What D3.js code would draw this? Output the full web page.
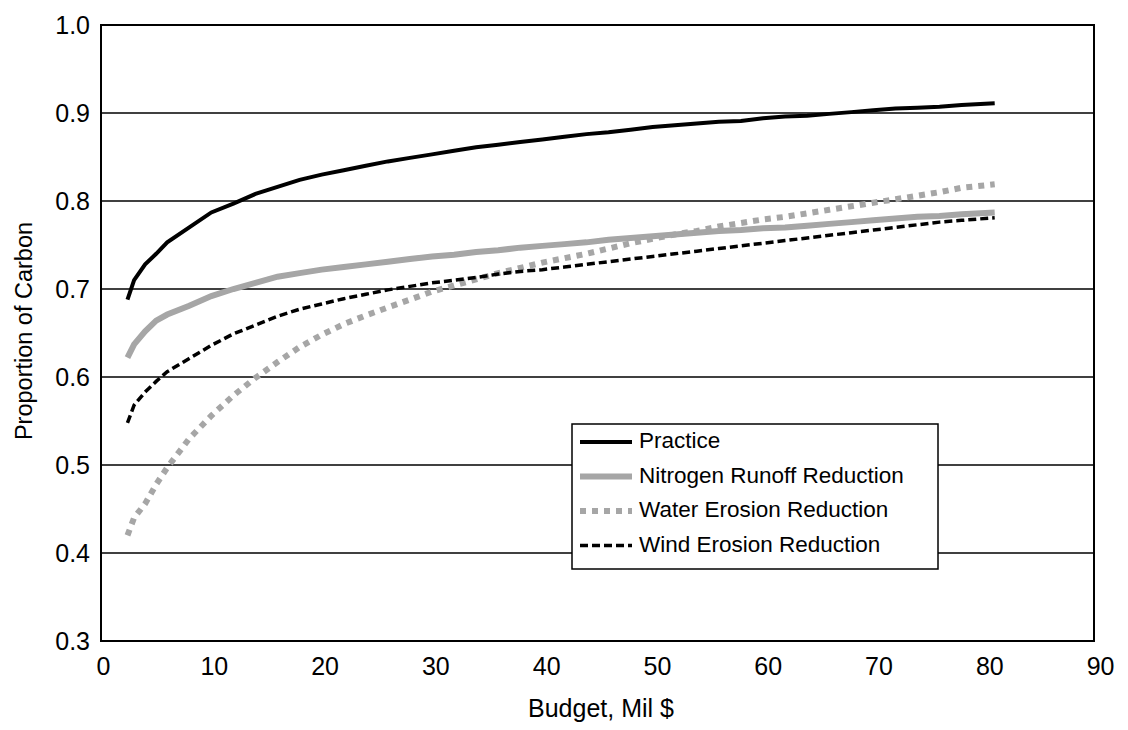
<!DOCTYPE html>
<html>
<head>
<meta charset="utf-8">
<script src="https://cdn.jsdelivr.net/npm/d3@7"></script>
<style>
  body { margin: 0; background: #fff; }
  text { font-family: "Liberation Sans", Arial, sans-serif; fill: #000; }
</style>
</head>
<body>
<div id="chart"></div>
<script>
const budget = [2.4, 3, 4, 5, 6, 8, 10, 12, 14, 16, 18, 20, 22, 24, 26, 28, 30, 32, 34, 36, 38, 40,
    42, 44, 46, 48, 50, 52, 54, 56, 58, 60, 62, 64, 66, 68, 70, 72, 74, 76, 78, 81];

const practice = [0.688, 0.710, 0.728, 0.740, 0.753, 0.770, 0.787, 0.797, 0.808, 0.816, 0.824, 0.830,
    0.835, 0.840, 0.845, 0.849, 0.853, 0.857, 0.861, 0.864, 0.867, 0.870, 0.873, 0.876, 0.878, 0.881,
    0.884, 0.886, 0.888, 0.890, 0.891, 0.894, 0.896, 0.897, 0.899, 0.901, 0.903, 0.905, 0.906, 0.907,
    0.909, 0.911];

const nitrogen = [0.622, 0.637, 0.652, 0.664, 0.671, 0.681, 0.692, 0.700, 0.707, 0.714, 0.718, 0.722,
    0.725, 0.728, 0.731, 0.734, 0.737, 0.739, 0.742, 0.744, 0.747, 0.749, 0.751, 0.753, 0.756, 0.758,
    0.760, 0.762, 0.764, 0.766, 0.767, 0.769, 0.770, 0.772, 0.774, 0.776, 0.778, 0.780, 0.782, 0.783,
    0.785, 0.787];

const water = [0.420, 0.440, 0.456, 0.478, 0.497, 0.530, 0.556, 0.579, 0.599, 0.617, 0.634, 0.648,
    0.660, 0.670, 0.679, 0.688, 0.697, 0.704, 0.711, 0.718, 0.724, 0.730, 0.735, 0.740, 0.746, 0.752,
    0.757, 0.762, 0.766, 0.771, 0.775, 0.779, 0.782, 0.786, 0.790, 0.794, 0.798, 0.802, 0.806, 0.810,
    0.815, 0.819];

const wind = [0.548, 0.568, 0.583, 0.595, 0.606, 0.621, 0.636, 0.649, 0.659, 0.669, 0.677, 0.683,
    0.689, 0.694, 0.699, 0.703, 0.707, 0.710, 0.713, 0.717, 0.720, 0.722, 0.725, 0.728, 0.731, 0.734,
    0.737, 0.740, 0.743, 0.746, 0.749, 0.752, 0.755, 0.758, 0.761, 0.764, 0.767, 0.770, 0.773, 0.776,
    0.778, 0.781];

const seriesNames = ["Practice", "Nitrogen Runoff Reduction", "Water Erosion Reduction", "Wind Erosion Reduction"];
const xTicks = [0, 10, 20, 30, 40, 50, 60, 70, 80, 90];
const yTicks = [0.3, 0.4, 0.5, 0.6, 0.7, 0.8, 0.9, 1.0];

const margin = { top: 25, right: 34, bottom: 89, left: 101 };
const W = 1128, H = 730;
const width = W - margin.left - margin.right;
const height = H - margin.top - margin.bottom;

const svg = d3.select("#chart").append("svg")
    .attr("width", W)
    .attr("height", H);

const chart = svg.append("g")
    .attr("transform", `translate(${margin.left}, ${margin.top})`);

const x = d3.scaleLinear().domain([0, 90]).range([0, width]);
const y = d3.scaleLinear().domain([0.3, 1.0]).range([height, 0]);

// gridlines
chart.append("g")
    .selectAll("line")
    .data(yTicks.slice(1, -1))
    .join("line")
    .attr("x1", 0).attr("x2", width)
    .attr("y1", d => y(d)).attr("y2", d => y(d))
    .attr("stroke", "#404040")
    .attr("stroke-width", 2);

// axes (labels only, no tick marks)
chart.append("g")
    .attr("transform", `translate(0, ${height})`)
    .call(d3.axisBottom(x).tickValues(xTicks).tickSize(0).tickPadding(16).tickFormat(d3.format("d")))
    .call(g => g.select(".domain").remove())
    .selectAll("text").style("font-size", "25px").attr("dy", "0.71em").attr("dx", d => 2 + d / 22);

chart.append("g")
    .call(d3.axisLeft(y).tickValues(yTicks).tickSize(0).tickPadding(11).tickFormat(d3.format(".1f")))
    .call(g => g.select(".domain").remove())
    .selectAll("text").style("font-size", "25px");

// frame
chart.append("rect")
    .attr("width", width).attr("height", height)
    .attr("fill", "none").attr("stroke", "#000").attr("stroke-width", 2);

const styles = [
    { color: "#000000", w: 4, dash: null },
    { color: "#a6a6a6", w: 6, dash: null },
    { color: "#a6a6a6", w: 6, dash: "6,6" },
    { color: "#000000", w: 3.5, dash: "8,4" }
];

const allSeries = [practice, nitrogen, water, wind];

const line = d3.line()
    .x((d, i) => x(budget[i]))
    .y(d => y(d));

// draw in order so that practice sits on top
[1, 2, 3, 0].forEach(k => {
    chart.append("path")
        .datum(allSeries[k])
        .attr("d", line)
        .attr("fill", "none")
        .attr("stroke", styles[k].color)
        .attr("stroke-width", styles[k].w)
        .attr("stroke-dasharray", styles[k].dash);
});

// legend
const legend = svg.append("g").attr("transform", "translate(572, 424)");
legend.append("rect")
    .attr("width", 366).attr("height", 145)
    .attr("fill", "#fff").attr("stroke", "#000").attr("stroke-width", 1.5);

seriesNames.forEach((name, i) => {
    const ly = 18 + i * 34.5;
    legend.append("line")
        .attr("x1", 8).attr("x2", 60)
        .attr("y1", ly).attr("y2", ly)
        .attr("stroke", styles[i].color)
        .attr("stroke-width", styles[i].w)
        .attr("stroke-dasharray", styles[i].dash);
    legend.append("text")
        .attr("x", 67).attr("y", ly)
        .attr("dy", "0.28em")
        .style("font-size", "22.5px")
        .text(name);
});

// axis titles
svg.append("text")
    .attr("x", 601).attr("y", 717)
    .attr("text-anchor", "middle")
    .style("font-size", "25px")
    .text("Budget, Mil $");

svg.append("text")
    .attr("transform", `translate(32, 331) rotate(-90)`)
    .attr("text-anchor", "middle")
    .style("font-size", "23.5px")
    .text("Proportion of Carbon");
</script>
</body>
</html>
